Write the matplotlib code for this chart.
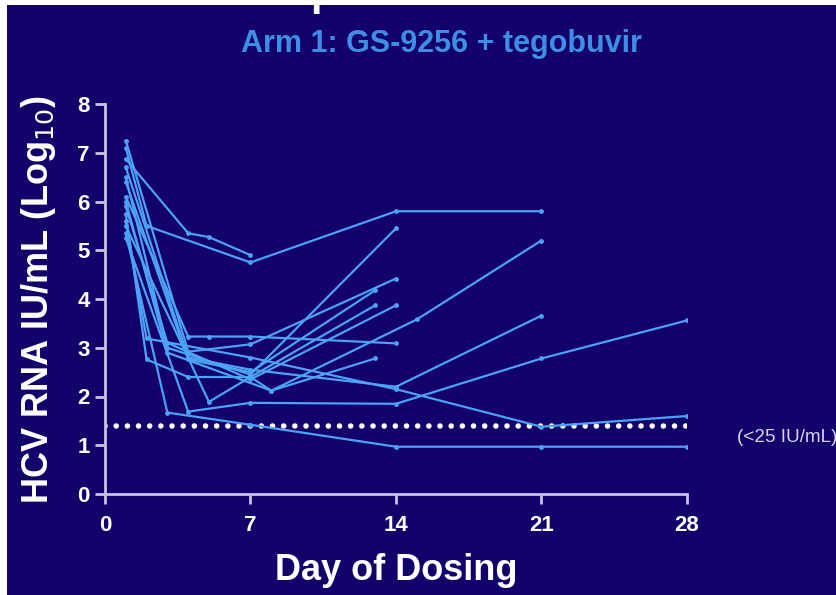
import matplotlib
matplotlib.use("Agg")
import matplotlib.pyplot as plt
from matplotlib.patches import Rectangle

# patient curves: (days, log10 HCV RNA)
days_a = [1, 4, 5, 7]
vals_a = [6.87, 5.35, 5.27, 4.9]
days_b = [1, 2, 7, 14, 21]
vals_b = [7.1, 5.5, 4.75, 5.8, 5.8]
days_c = [1, 3, 7, 14]
vals_c = [6.5, 3.0, 2.45, 5.45]
days_d = [1, 3, 8, 15, 21]
vals_d = [6.0, 2.9, 2.12, 3.58, 5.2]
days_e = [1, 4, 7, 14]
vals_e = [7.25, 2.92, 3.07, 4.42]
days_f = [1, 4, 7, 13]
vals_f = [6.4, 2.76, 2.5, 4.18]
days_g = [1, 5, 7, 13]
vals_g = [5.5, 1.89, 2.4, 3.87]
days_h = [1, 3, 7, 14]
vals_h = [5.9, 3.1, 2.35, 3.87]
days_i = [1, 4, 5, 7, 14]
vals_i = [6.1, 3.23, 3.23, 3.23, 3.09]
days_j = [1, 2, 4, 7, 8, 13]
vals_j = [5.75, 2.76, 2.4, 2.4, 2.12, 2.78]
days_k = [1, 4, 7, 14, 21]
vals_k = [6.7, 2.8, 2.55, 2.2, 3.66]
days_l = [1, 4, 7, 14, 21, 28]
vals_l = [5.25, 1.69, 1.87, 1.85, 2.78, 3.56]
days_m = [1, 2, 7, 14, 21, 28]
vals_m = [5.6, 3.19, 2.8, 2.15, 1.38, 1.6]
days_n = [1, 3, 7, 14, 21, 28]
vals_n = [5.35, 1.67, 1.42, 0.97, 0.97, 0.97]

patients = [(days_a, vals_a), (days_b, vals_b), (days_c, vals_c), (days_d, vals_d),
            (days_e, vals_e), (days_f, vals_f), (days_g, vals_g), (days_h, vals_h),
            (days_i, vals_i), (days_j, vals_j), (days_k, vals_k), (days_l, vals_l),
            (days_m, vals_m), (days_n, vals_n)]

lloq = 1.4
x_ticks = [0, 7, 14, 21, 28]
y_ticks = [0, 1, 2, 3, 4, 5, 6, 7, 8]

bg = "#13006a"
line_col = "#4ca2f5"
axis_col = "#c9c3e3"
sans = ["Liberation Sans", "DejaVu Sans"]

fig = plt.figure(figsize=(8.37, 5.95), dpi=100, facecolor="white")
fig.patches.append(Rectangle((7 / 837, 0), 1, 590 / 595, transform=fig.transFigure,
                             facecolor=bg, edgecolor="none", zorder=-10))

ax = fig.add_axes([105 / 837, 101 / 595, 582 / 837, 390 / 595])
ax.set_facecolor(bg)
ax.patch.set_alpha(0)

# detection limit, big white dots
ax.plot([0, 28], [lloq, lloq], color="white", linewidth=4, dashes=(0.01, 2.0),
        dash_capstyle="round", zorder=2)

for d, v in patients:
    ax.plot(d, v, color=line_col, linewidth=1.6, marker="o", markersize=3.5,
            markeredgewidth=0, zorder=3)

ax.set_xlim(0, 28)
ax.set_ylim(0, 8)
ax.set_xticks(x_ticks)
ax.set_yticks(y_ticks)
for s in ["top", "right"]:
    ax.spines[s].set_visible(False)
for s in ["left", "bottom"]:
    ax.spines[s].set_color(axis_col)
    ax.spines[s].set_linewidth(2)
ax.tick_params(axis="both", colors=axis_col, length=7, width=2, direction="out")
ax.tick_params(axis="x", pad=8)
ax.tick_params(axis="y", pad=4)
for lab in ax.get_xticklabels() + ax.get_yticklabels():
    lab.set_color("white")
    lab.set_fontweight("bold")
    lab.set_fontsize(16)
    lab.set_family(sans)

ax.set_xlabel("Day of Dosing", color="white", fontsize=26, fontweight="bold", family=sans)
ax.xaxis.set_label_coords(0.5, -0.15)
ax.set_ylabel("HCV RNA IU/mL (Log$_{10}$)", color="white", fontsize=26,
              fontweight="bold", family=sans)
ax.yaxis.set_label_coords(-0.08, 0.5)

fig.text(0.527, (595 - 52) / 595, "Arm 1: GS-9256 + tegobuvir", color="#3e8fe3",
         fontsize=22, fontweight="bold", family=sans, ha="center", va="baseline")
# descender of the slide heading above, cut off by the frame
fig.text(323 / 837, 590 / 595, "p", color="white", fontsize=30, fontweight="bold",
         family=sans, ha="center", va="baseline")
fig.text(737 / 837, (595 - 437) / 595, "(<25 IU/mL)", color="#d6d4e6",
         fontsize=13.6, family=sans, ha="left", va="center")

fig.savefig("out.png", dpi=100, facecolor=fig.get_facecolor())
